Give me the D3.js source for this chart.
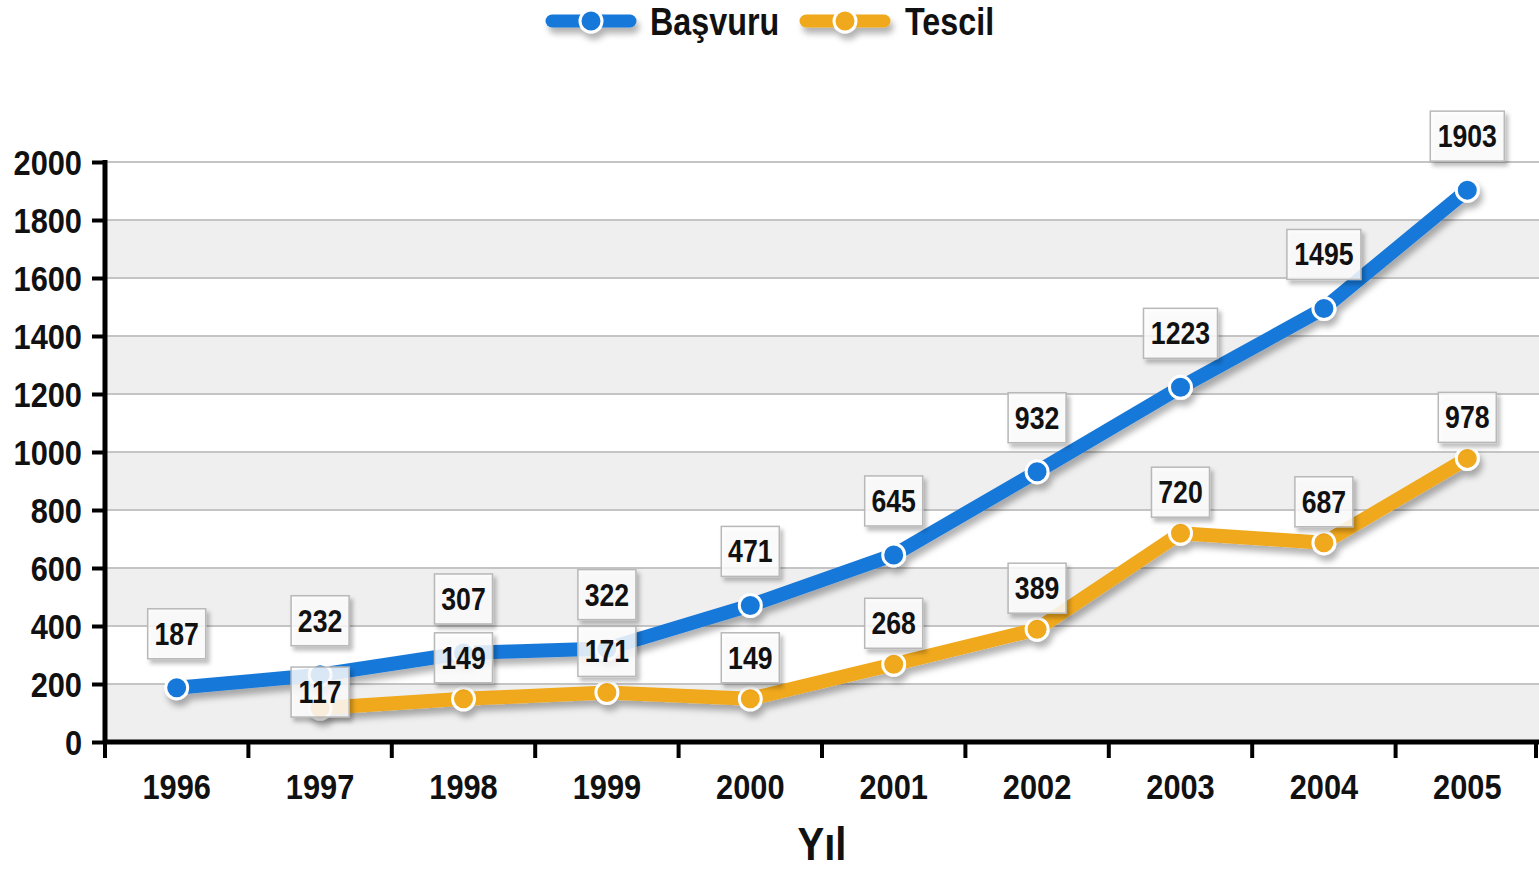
<!DOCTYPE html>
<html><head><meta charset="utf-8">
<script src="https://cdn.jsdelivr.net/npm/d3@7"></script>
<style>
html,body{margin:0;padding:0;background:#fff;}
svg text{font-family:"Liberation Sans",Arial,sans-serif;font-weight:bold;}
</style></head>
<body>
<svg id="c" width="1539" height="870"></svg>
<script>
const years = ["1996","1997","1998","1999","2000","2001","2002","2003","2004","2005"];
const basvuru = [187,232,307,322,471,645,932,1223,1495,1903];
const tescil = [null,117,149,171,149,268,389,720,687,978];
const yTicks = [0,200,400,600,800,1000,1200,1400,1600,1800,2000];
const seriesNames = ["Başvuru","Tescil"];
const xTitle = "Yıl";

const colors = ["#1878d8","#f0a81a"];
const svg = d3.select("#c");
const L = 105, R = 1539, T = 162, B = 742;
const x = d3.scaleBand().domain(years).range([L,R]);
const y = d3.scaleLinear().domain([0,2000]).range([B,T]);
const cx = d => x(d) + x.bandwidth()/2;

function ntext(parent, tx, ty, str, size, sx, anchor) {
  return parent.append("text").attr("transform",`translate(${tx},${ty}) scale(${sx},1)`)
    .attr("text-anchor",anchor||"middle").attr("font-size",size).attr("fill","#111").text(str);
}

const defs = svg.append("defs");
const f = defs.append("filter").attr("id","sh").attr("x","-20%").attr("y","-40%").attr("width","150%").attr("height","200%");
f.append("feDropShadow").attr("dx",3).attr("dy",6).attr("stdDeviation",3).attr("flood-color","#000").attr("flood-opacity",0.3);
const f2 = defs.append("filter").attr("id","sh2").attr("x","-20%").attr("y","-20%").attr("width","150%").attr("height","150%");
f2.append("feDropShadow").attr("dx",3).attr("dy",4).attr("stdDeviation",2).attr("flood-color","#000").attr("flood-opacity",0.3);

// bands
for (let i = 0; i < yTicks.length-1; i++) {
  if (i % 2 === 0) {
    svg.append("rect").attr("x",L).attr("y",y(yTicks[i+1])).attr("width",R-L)
      .attr("height",y(yTicks[i])-y(yTicks[i+1])).attr("fill","#efefef");
  }
}
// grid
svg.append("g").selectAll("line").data(yTicks.slice(1)).join("line")
  .attr("x1",L).attr("x2",R).attr("y1",d=>y(d)).attr("y2",d=>y(d))
  .attr("stroke","#c4c4c4").attr("stroke-width",2);

// y axis
const ya = svg.append("g").attr("transform",`translate(${L},0)`)
  .call(d3.axisLeft(y).tickValues(yTicks).tickSize(13).tickFormat(d3.format("d")));
ya.select(".domain").remove();
ya.selectAll(".tick line").attr("stroke","#000").attr("stroke-width",4);
ya.selectAll(".tick text").remove();
ya.selectAll(".tick").each(function(d){
  ntext(d3.select(this), -23, 12.5, d3.format("d")(d), 35, 0.88, "end");
});
svg.append("line").attr("x1",L).attr("x2",L).attr("y1",T-2).attr("y2",B+2).attr("stroke","#000").attr("stroke-width",5);

// x axis
svg.append("line").attr("x1",L-2).attr("x2",R).attr("y1",B).attr("y2",B).attr("stroke","#000").attr("stroke-width",5);
const bounds = years.map(d=>x(d)).concat([R-3]);
svg.append("g").selectAll("line").data(bounds).join("line")
  .attr("x1",d=>d).attr("x2",d=>d).attr("y1",B).attr("y2",B+16)
  .attr("stroke","#000").attr("stroke-width",4);
const xa = svg.append("g").attr("transform",`translate(0,${B})`)
  .call(d3.axisBottom(x).tickSize(0).tickPadding(0));
xa.select(".domain").remove();
xa.selectAll(".tick text").remove();
xa.selectAll(".tick").each(function(d){
  ntext(d3.select(this), 0, 57, d, 35, 0.88);
});
ntext(svg, (L+R)/2, 860, xTitle, 46, 0.87);

// lines
const all = [basvuru, tescil];
const line = d3.line().defined(d=>d.v!=null).x(d=>cx(d.k)).y(d=>y(d.v));
all.forEach((s,i) => {
  const pts = years.map((k,j)=>({k, v:s[j]}));
  const g = svg.append("g").attr("filter","url(#sh)");
  g.append("path").datum(pts).attr("d",line).attr("fill","none")
    .attr("stroke",colors[i]).attr("stroke-width",14).attr("stroke-linejoin","round");
  g.selectAll("circle").data(pts.filter(d=>d.v!=null)).join("circle")
    .attr("cx",d=>cx(d.k)).attr("cy",d=>y(d.v)).attr("r",11)
    .attr("fill",colors[i]).attr("stroke","#fff").attr("stroke-width",3);
});

// labels
function label(k, v, off) {
  const s = String(v);
  const w = s.length > 3 ? 74 : 58, h = 50;
  const px = cx(k), py = y(v) + off;
  const g = svg.append("g");
  g.append("rect").attr("x",px-w/2).attr("y",py-h/2).attr("width",w).attr("height",h)
    .attr("fill","#fff").attr("fill-opacity",0.82).attr("stroke","#b8b8b8").attr("stroke-width",1.5)
    .attr("filter","url(#sh2)");
  ntext(g, px, py+11, s, 31, 0.86);
}
years.forEach((k,j) => {
  label(k, basvuru[j], -54);
  if (tescil[j] != null) {
    const gap = y(tescil[j]) - y(basvuru[j]);
    label(k, tescil[j], gap < 40 ? -16 : -41);
  }
});

// legend
const lg = [[552,630,650],[806,884,905]];
seriesNames.forEach((n,i) => {
  const [a,b,t] = lg[i];
  const g = svg.append("g").attr("filter","url(#sh)");
  g.append("line").attr("x1",a).attr("x2",b).attr("y1",21).attr("y2",21)
    .attr("stroke",colors[i]).attr("stroke-width",13).attr("stroke-linecap","round");
  g.append("circle").attr("cx",(a+b)/2).attr("cy",21).attr("r",11)
    .attr("fill",colors[i]).attr("stroke","#fff").attr("stroke-width",3);
  ntext(svg, t, 35, n, 38, 0.85, "start");
});
</script>
</body></html>
